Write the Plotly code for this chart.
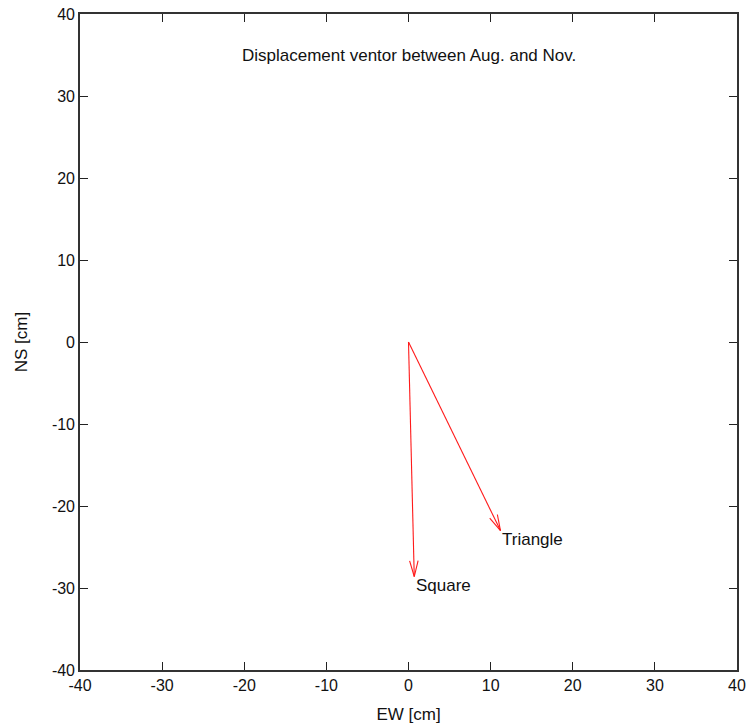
import math
import plotly.graph_objects as go

# Displacement vectors (EW, NS) in cm, starting at the origin
names = ["Square", "Triangle"]
ew = [0.7, 11.2]
ns = [-28.6, -23.0]

axis_ticks = [-40, -30, -20, -10, 0, 10, 20, 30, 40]
axis_ticktext = [str(v) for v in axis_ticks]
title_text = "Displacement ventor between Aug. and Nov."

RED = "#ff1a1a"
FAMILY = "Liberation Sans, Arial, Helvetica, sans-serif"
TEXT_FONT = dict(family=FAMILY, size=17, color="#111")
TICK_FONT = dict(family=FAMILY, size=16, color="#111")

fig = go.Figure()

head_len = 2.0
head_ang = math.radians(15)

for name, dx, dy in zip(names, ew, ns):
    # shaft
    fig.add_trace(go.Scatter(x=[0, dx], y=[0, dy], mode="lines",
                             line=dict(color=RED, width=1.1),
                             hoverinfo="skip", showlegend=False))
    # open V arrow head
    ang = math.atan2(dy, dx)
    hx, hy = [], []
    for s in (1, -1):
        a = ang + math.pi + s * head_ang
        hx += [dx + head_len * math.cos(a), dx, None]
        hy += [dy + head_len * math.sin(a), dy, None]
    fig.add_trace(go.Scatter(x=hx, y=hy, mode="lines",
                             line=dict(color=RED, width=1.1),
                             hoverinfo="skip", showlegend=False))
    fig.add_annotation(x=dx, y=dy, text=name, showarrow=False,
                       xanchor="left", yanchor="top", xshift=0, yshift=3,
                       font=TEXT_FONT)

fig.add_annotation(x=0, y=35, text=title_text, showarrow=False,
                   xanchor="center", yanchor="middle", font=TEXT_FONT)

axis_style = dict(
    range=[-40, 40], tickvals=axis_ticks, ticktext=axis_ticktext,
    ticks="inside", ticklen=8, tickcolor="#222", tickwidth=1.2,
    showline=True, linecolor="#333", linewidth=1.6, mirror="ticks",
    showgrid=False, zeroline=False, automargin=False,
    tickfont=TICK_FONT, title_font=TEXT_FONT,
)

fig.update_layout(
    width=752, height=726,
    margin=dict(l=80, r=15, t=14, b=56),
    plot_bgcolor="white", paper_bgcolor="white",
    font=TEXT_FONT,
    xaxis=dict(title=dict(text="EW [cm]", standoff=15), **axis_style),
    yaxis=dict(title=dict(text="NS [cm]", standoff=20), **axis_style),
)

fig.write_html("out.html")
